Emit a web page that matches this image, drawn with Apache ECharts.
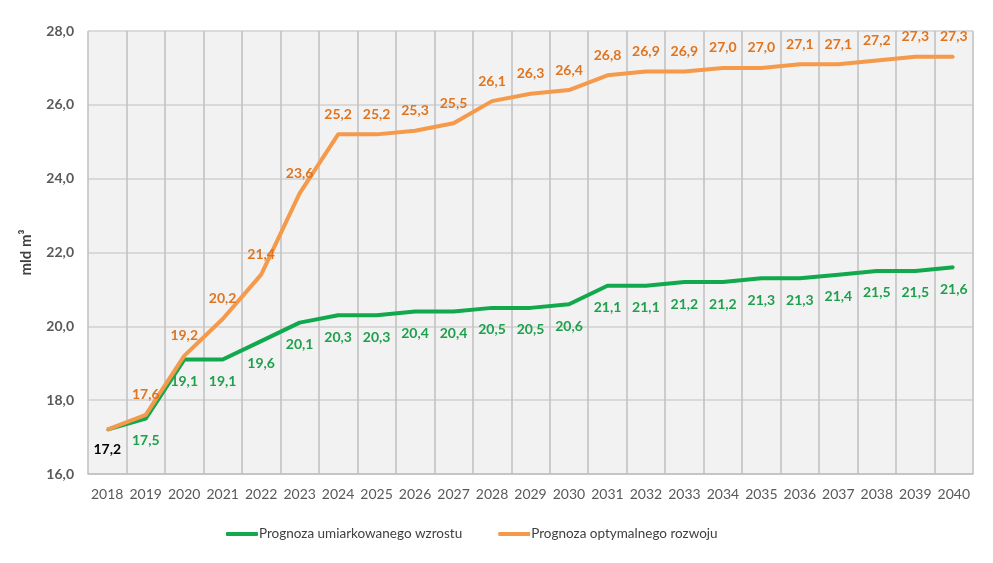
<!DOCTYPE html>
<html><head><meta charset="utf-8">
<script src="https://cdn.jsdelivr.net/npm/echarts@6/dist/echarts.min.js"></script>
<style>html,body{margin:0;padding:0;background:#fff}#c{width:993px;height:563px}</style>
</head><body><div id="c"></div>
<script>
const years = ['2018','2019','2020','2021','2022','2023','2024','2025','2026','2027','2028','2029','2030','2031','2032','2033','2034','2035','2036','2037','2038','2039','2040'];
const moderate = [17.2,17.5,19.1,19.1,19.6,20.1,20.3,20.3,20.4,20.4,20.5,20.5,20.6,21.1,21.1,21.2,21.2,21.3,21.3,21.4,21.5,21.5,21.6];
const optimal = [17.2,17.6,19.2,20.2,21.4,23.6,25.2,25.2,25.3,25.5,26.1,26.3,26.4,26.8,26.9,26.9,27.0,27.0,27.1,27.1,27.2,27.3,27.3];
const seriesNames = ['Prognoza umiarkowanego wzrostu','Prognoza optymalnego rozwoju'];
const yTicks = {min:16, max:28, step:2};

const fmt = v => Number(v).toFixed(1).replace('.', ',');
const font = 'Lato, "Open Sans", sans-serif';

const greenData = moderate.map((v,i)=> i===0 ? {value:v, label:{show:false}} : v);
const orangeData = optimal.map((v,i)=> i===0 ? {value:v, label:{position:'bottom', distance:12, color:'#000'}} : v);

const chart = echarts.init(document.getElementById('c'));
chart.setOption({
  animation:false,
  grid:{left:88, right:20, top:31, bottom:89, show:true, backgroundColor:'#f2f2f2', borderWidth:0},
  legend:{
    bottom:17, left:221, itemWidth:32, itemHeight:4, itemGap:36,
    icon:'roundRect',
    textStyle:{fontFamily:font, fontSize:13.5, color:'#404040', padding:[0,0,0,-4]},
    data:seriesNames
  },
  xAxis:{
    type:'category', data:years, boundaryGap:true,
    axisLine:{show:true, lineStyle:{color:'#bfbfbf', width:1.5}},
    axisTick:{show:false},
    axisLabel:{interval:0, fontFamily:font, fontSize:14, color:'#595959', margin:13},
    splitLine:{show:true, interval:0, lineStyle:{color:'#bfbfbf', width:1.5}}
  },
  yAxis:{
    type:'value', min:yTicks.min, max:yTicks.max, interval:yTicks.step,
    name:'mld m³', nameLocation:'middle', nameGap:54, nameRotate:90,
    nameTextStyle:{fontFamily:font, fontSize:15, fontWeight:'bold', color:'#404040'},
    axisLine:{show:false}, axisTick:{show:false},
    axisLabel:{fontFamily:font, fontSize:14, fontWeight:'bold', color:'#595959', margin:14, formatter:v=>fmt(v)},
    splitLine:{show:true, lineStyle:{color:'#d0d0d0', width:1.5}}
  },
  series:[
    {
      name:seriesNames[0], type:'line', data:greenData, symbol:'circle', symbolSize:2, showSymbol:true, z:2,
      lineStyle:{color:'#12a84e', width:4}, itemStyle:{color:'#12a84e'},
      label:{show:true, position:'bottom', distance:14, fontFamily:font, fontSize:14, fontWeight:'bold', color:'#1ea04c', formatter:p=>fmt(p.value)}
    },
    {
      name:seriesNames[1], type:'line', data:orangeData, symbol:'circle', symbolSize:2, showSymbol:true, z:3,
      lineStyle:{color:'#f5994b', width:4}, itemStyle:{color:'#f5994b'},
      label:{show:true, position:'top', distance:12, fontFamily:font, fontSize:14, fontWeight:'bold', color:'#e0741f', formatter:p=>fmt(p.value)}
    }
  ]
});
</script></body></html>
